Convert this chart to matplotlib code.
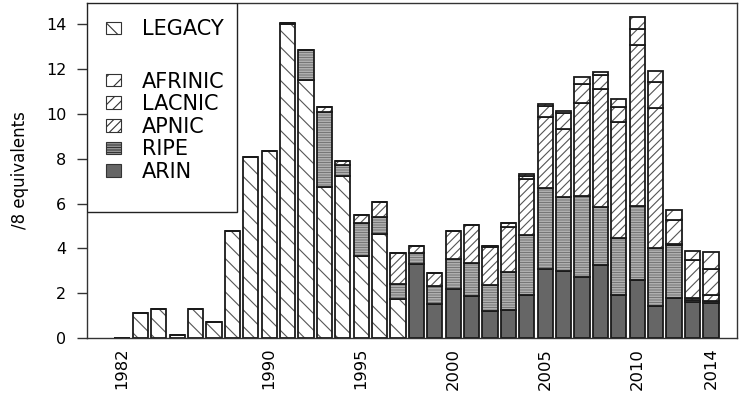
import numpy as np
import matplotlib
matplotlib.use("Agg")
import matplotlib.pyplot as plt
from matplotlib.patches import Patch, Rectangle

plt.rcParams['font.family'] = ['DejaVu Sans']
plt.rcParams['hatch.linewidth'] = 0.8

years = np.arange(1982, 2015)
year_labels = [1982, 1990, 1995, 2000, 2005, 2010, 2014]

# /8 equivalents per year, one list per registry (1982 .. 2014)
legacy = [0, 1.1, 1.3, 0.12, 1.3, 0.7, 4.8, 8.1, 8.35, 14.0, 11.5, 6.75, 7.25, 3.67, 4.65, 1.72,
          0, 0, 0, 0, 0, 0, 0, 0, 0, 0, 0, 0, 0, 0, 0, 0, 0]
arin = [0, 0, 0, 0, 0, 0, 0, 0, 0, 0, 0, 0, 0, 0, 0, 0,
        3.29, 1.52, 2.17, 1.89, 1.19, 1.24, 1.92, 3.07, 3.0, 2.74, 3.24, 1.9, 2.59, 1.43, 1.8, 1.59, 1.56]
ripe = [0, 0, 0, 0, 0, 0, 0, 0, 0, 0.06, 1.38, 3.35, 0.47, 1.45, 0.77, 0.69,
        0.52, 0.8, 1.34, 1.44, 1.17, 1.72, 2.66, 3.61, 3.28, 3.6, 2.62, 2.58, 3.32, 2.57, 2.35, 0.09, 0.11]
apnic = [0, 0, 0, 0, 0, 0, 0, 0, 0, 0, 0, 0.21, 0.18, 0.37, 0.66, 1.37,
         0.3, 0.57, 1.27, 1.71, 1.69, 2.01, 2.5, 3.2, 3.05, 4.14, 5.24, 5.18, 7.17, 6.25, 0.05, 0.09, 0.25]
lacnic = [0, 0, 0, 0, 0, 0, 0, 0, 0, 0, 0, 0, 0, 0, 0, 0,
          0, 0, 0, 0, 0.06, 0.15, 0.17, 0.48, 0.7, 0.86, 0.64, 0.67, 0.74, 1.16, 1.07, 1.71, 1.17]
afrinic = [0, 0, 0, 0, 0, 0, 0, 0, 0, 0, 0, 0, 0, 0, 0, 0,
           0, 0, 0, 0, 0, 0, 0.06, 0.09, 0.12, 0.33, 0.12, 0.35, 0.51, 0.52, 0.44, 0.42, 0.76]

# name, values, hatch, face, hatch colour (stacked bottom to top)
series = [
    ("LEGACY", legacy, "\\\\", "white", "#555555"),
    ("ARIN", arin, None, "#666666", "#666666"),
    ("RIPE", ripe, "----------", "#dddddd", "#777777"),
    ("APNIC", apnic, "////", "white", "#555555"),
    ("LACNIC", lacnic, "///", "white", "#555555"),
    ("AFRINIC", afrinic, "//", "white", "#555555"),
]

fig = plt.figure(figsize=(7.47, 4.07), dpi=100)
ax = fig.add_axes([87 / 747, 69 / 407, 650 / 747, 335 / 407])

width = 0.83
bottom = np.zeros(len(years))
for name, vals, hatch, fc, hc in series:
    vals = np.array(vals)
    ax.bar(years, vals, width, bottom=bottom, color=fc, edgecolor=hc, hatch=hatch, linewidth=0)
    ax.bar(years, vals, width, bottom=bottom, fill=False, edgecolor="#1a1a1a", linewidth=1.3)
    bottom += vals

ax.set_xlim(1980.1, 2015.42)
ax.set_ylim(0, 14.96)
ax.set_yticks(range(0, 15, 2))
ax.tick_params(axis='y', length=7, width=1, labelsize=11.5, pad=8, color="#333333")
ax.set_xticks(year_labels)
ax.set_xticklabels([str(y) for y in year_labels], rotation=90)
ax.tick_params(axis='x', length=0, labelsize=11.8, pad=7)
ax.set_ylabel("/8 equivalents", fontsize=12, labelpad=12)
for sp in ax.spines.values():
    sp.set_linewidth(1)
    sp.set_color("#333333")

# legend box
ax.add_patch(Rectangle((0, 126 / 335), 150 / 650, 1 - 126 / 335, transform=ax.transAxes,
                       facecolor="white", edgecolor="#222222", linewidth=1, zorder=5))
style = {name: (hatch, fc, hc) for name, vals, hatch, fc, hc in series}


def make_handles(names):
    hs = []
    for name in names:
        h, fc, hc = style[name]
        hs.append(Patch(facecolor=fc, edgecolor="#333333", hatch=h, linewidth=0.8))
    return hs


leg_kw = dict(loc="upper left", fontsize=15, frameon=False, handlelength=0.75,
              handleheight=0.56, handletextpad=1.0, labelspacing=0.125,
              borderpad=0, borderaxespad=0)
top_names = ["LEGACY"]
rir_names = ["AFRINIC", "LACNIC", "APNIC", "RIPE", "ARIN"]
leg1 = ax.legend(make_handles(top_names), top_names, bbox_to_anchor=(0.029, 0.951), **leg_kw)
leg1.set_zorder(6)
ax.add_artist(leg1)
leg2 = ax.legend(make_handles(rir_names), rir_names, bbox_to_anchor=(0.029, 0.7955), **leg_kw)
leg2.set_zorder(6)

fig.savefig("out.png", dpi=100)
